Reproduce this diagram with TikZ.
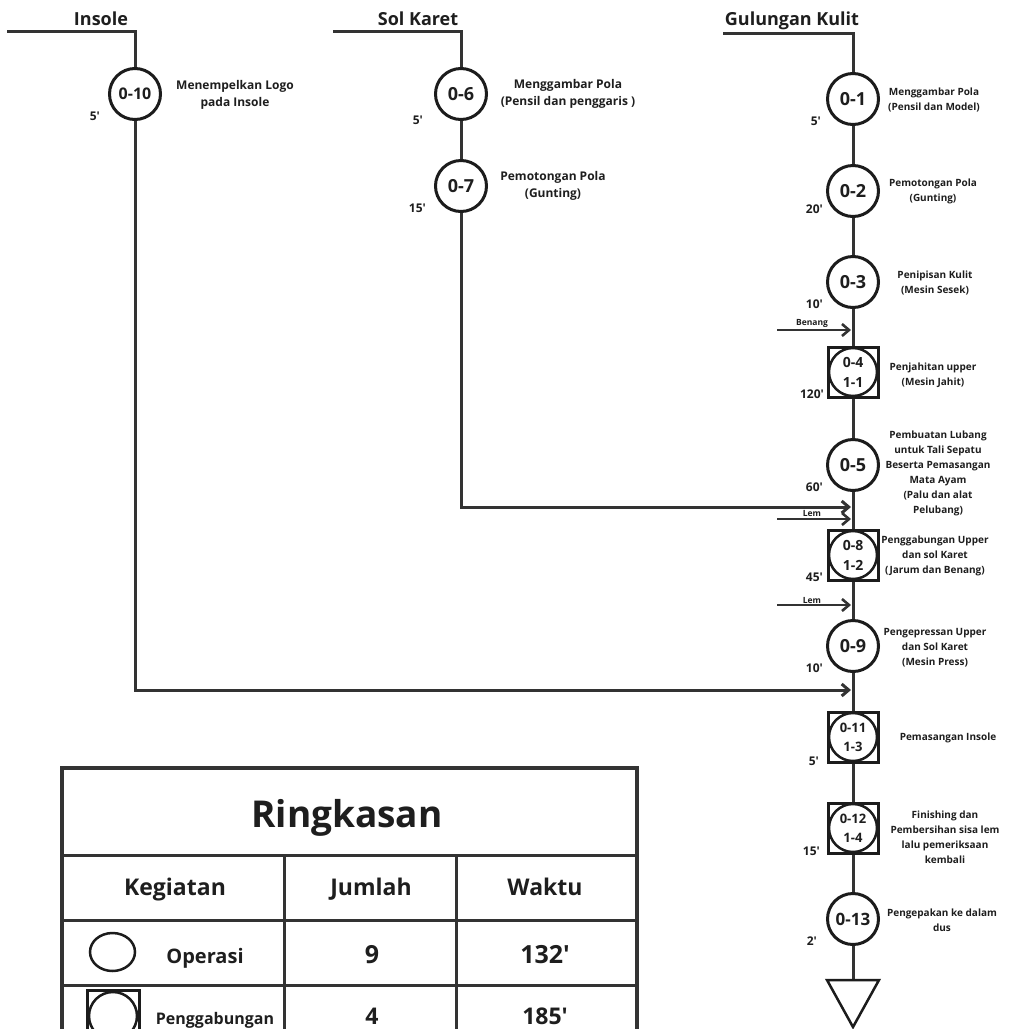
\documentclass[tikz,border=0pt]{standalone}
\usepackage{fontspec}
\setmainfont{Open Sans}
\newfontfamily\osans{Open Sans}
\usetikzlibrary{arrows.meta}
\definecolor{linec}{RGB}{51,51,51}
\definecolor{shapec}{RGB}{28,28,28}
\definecolor{textc}{RGB}{30,30,30}
\newcommand\myfs[2]{\osans\fontsize{#1}{#2}\selectfont\bfseries}
\begin{document}
\begin{tikzpicture}[x=1pt,y=-1pt,
  conn/.style={draw=linec,line width=3pt},
  arr/.style={draw=linec,line width=2.6pt,-{Straight Barb[length=7pt,width=12pt]}},
  opc/.style={circle,draw=shapec,line width=3pt,fill=white,minimum size=51pt,inner sep=0pt,text=textc,font=\myfs{18}{20}},
  sqbox/.style={rectangle,draw=shapec,line width=3pt,fill=white,minimum size=50pt,inner sep=0pt},
  incirc/.style={circle,draw=shapec,line width=2.5pt,minimum size=48pt,inner sep=0pt,text=textc,align=center,font=\myfs{14}{20}},
  desc/.style={align=center,text=textc,font=\myfs{10}{15},inner sep=0pt},
  descl/.style={align=center,text=textc,font=\myfs{12}{17},inner sep=0pt},
  tlab/.style={anchor=base east,text=textc,font=\myfs{12}{14},inner sep=0pt},
  ttl/.style={anchor=base,text=textc,font=\myfs{18}{20},inner sep=0pt},
  smalllab/.style={text=textc,font=\myfs{8.5}{9},inner sep=0pt},
  tb/.style={draw=linec,line width=3pt},
  tbtext/.style={anchor=base,text=textc,inner sep=0pt},
]
\useasboundingbox (0,0) rectangle (1011,1029);
\clip (0,0) rectangle (1011,1029);
\fill[white] (0,0) rectangle (1011,1029);

% ---------- titles ----------
\node[ttl] (tIns) at (101,25) {Insole};
\node[ttl] (tSol) at (418,25) {Sol Karet};
\node[ttl] (tGul) at (792,25) {Gulungan Kulit};
\coordinate (cI) at (7,31);
\coordinate (cS) at (333,31);
\coordinate (cG) at (723,33);

% ---------- left columns ----------
\node[opc,font=\myfs{16}{18}] (o10) at (135,94) {0-10};
\node[opc] (o6) at (461,94) {0-6};
\node[opc] (o7) at (461,186) {0-7};

% ---------- main column ----------
\node[opc] (o1) at (853,99) {0-1};
\node[opc] (o2) at (853,191) {0-2};
\node[opc] (o3) at (853,282) {0-3};
\node[sqbox] (o4) at (853,372) {};
\node[incirc] (o4c) at (o4) {0-4\\1-1};
\node[opc] (o5) at (853,465) {0-5};
\node[sqbox] (o8) at (853,555) {};
\node[incirc] (o8c) at (o8) {0-8\\1-2};
\node[opc] (o9) at (853,646) {0-9};
\node[sqbox] (o11) at (853,737) {};
\node[incirc,font=\myfs{13}{19}] (o11c) at (o11) {0-11\\1-3};
\node[sqbox] (o12) at (853,828) {};
\node[incirc,font=\myfs{13}{19}] (o12c) at (o12) {0-12\\1-4};
\node[opc,font=\myfs{17}{19}] (o13) at (853,919) {0-13};
\coordinate (tri) at (853,980);

% ---------- connectors ----------
\draw[conn] (cI) -| (o10);
\draw[conn] (cS) -| (o6);
\draw[conn] (cG) -| (o1);
\draw[conn] (o6) -- (o7);
\draw[conn] (o1) -- (o2);
\draw[conn] (o2) -- (o3);
\draw[conn] (o3) -- (o4);
\draw[conn] (o4) -- (o5);
\draw[conn] (o5) -- (o8);
\draw[conn] (o8) -- (o9);
\draw[conn] (o9) -- (o11);
\draw[conn] (o11) -- (o12);
\draw[conn] (o12) -- (o13);
\draw[conn] (o13) -- (tri);
\draw[draw=shapec,line width=2.5pt,line join=miter] (827,980) -- (879,980) -- (853,1027) -- cycle;

\coordinate (j1) at (851,507);
\coordinate (j2) at (851,690);
\draw[arr,line width=3pt] (o7) |- (j1);
\draw[arr,line width=3pt] (o10) |- (j2);

\coordinate (bS) at (777,330); \coordinate (bE) at (851,330);
\draw[arr] (bS) -- (bE);
\node[smalllab] (bLab) at (812,323) {Benang};
\coordinate (l1S) at (777,519); \coordinate (l1E) at (851,519);
\draw[arr] (l1S) -- (l1E);
\node[smalllab] (l1Lab) at (812,513) {Lem};
\coordinate (l2S) at (777,605); \coordinate (l2E) at (851,605);
\draw[arr] (l2S) -- (l2E);
\node[smalllab] (l2Lab) at (812,600) {Lem};

% ---------- descriptions ----------
\node[descl] (d10) at (235,95) {Menempelkan Logo\\pada Insole};
\node[descl] (d6) at (568,94) {Menggambar Pola\\(Pensil dan penggaris )};
\node[descl] (d7) at (553,186) {Pemotongan Pola\\(Gunting)};
\node[desc] (d1) at (934,100) {Menggambar Pola\\(Pensil dan Model)};
\node[desc] (d2) at (933,191) {Pemotongan Pola\\(Gunting)};
\node[desc] (d3) at (935,283) {Penipisan Kulit\\(Mesin Sesek)};
\node[desc] (d4) at (933,375) {Penjahitan upper\\(Mesin Jahit)};
\node[desc] (d5) at (938,473) {Pembuatan Lubang\\untuk Tali Sepatu\\Beserta Pemasangan\\Mata Ayam\\(Palu dan alat\\Pelubang)};
\node[desc] (d8) at (935,556) {Penggabungan Upper\\dan sol Karet\\(Jarum dan Benang)};
\node[desc] (d9) at (935,648) {Pengepressan Upper\\dan Sol Karet\\(Mesin Press)};
\node[desc] (d11) at (948,738) {Pemasangan Insole};
\node[desc] (d12) at (945,837) {Finishing dan\\Pembersihan sisa lem\\lalu pemeriksaan\\kembali};
\node[desc] (d13) at (942,920) {Pengepakan ke dalam\\dus};

% ---------- times ----------
\node[tlab] (t10) at (100,120) {5'};
\node[tlab] (t6) at (423,124) {5'};
\node[tlab] (t7) at (426,212) {15'};
\node[tlab] (t1) at (821,125) {5'};
\node[tlab] (t2) at (823,213) {20'};
\node[tlab] (t3) at (823,308) {10'};
\node[tlab] (t4) at (824,398) {120'};
\node[tlab] (t5) at (823,491) {60'};
\node[tlab] (t8) at (823,581) {45'};
\node[tlab] (t9) at (823,672) {10'};
\node[tlab] (t11) at (819,765) {5'};
\node[tlab] (t12) at (820,855) {15'};
\node[tlab] (t13) at (817,945) {2'};

% ---------- summary table ----------
\draw[draw=linec,line width=4pt] (62,768) rectangle (637,1050);
\draw[tb] (62,855) -- (637,855);
\draw[tb] (62,920) -- (637,920);
\draw[tb] (62,985) -- (637,985);
\draw[tb] (284,855) -- (284,1050);
\draw[tb] (456,855) -- (456,1050);
\node[tbtext,font=\myfs{37}{40}] (tRing) at (347,827) {Ringkasan};
\node[tbtext,font=\myfs{23}{25}] (hK) at (175,895) {Kegiatan};
\node[tbtext,font=\myfs{23}{25}] (hJ) at (371,895) {Jumlah};
\node[tbtext,font=\myfs{23}{25}] (hW) at (545,895) {Waktu};
\draw[draw=shapec,line width=2.5pt] (112.5,952) ellipse [x radius=22.5, y radius=19];
\node[tbtext,font=\myfs{20}{22}] (rOp) at (205,963) {Operasi};
\node[tbtext,font=\myfs{25}{27}] (rOpN) at (372,963) {9};
\node[tbtext,font=\myfs{25}{27}] (rOpT) at (545,963) {132'};
\draw[draw=shapec,line width=3pt] (87,990) rectangle (139,1042);
\draw[draw=shapec,line width=2.5pt] (113,1016) circle [radius=24];
\node[tbtext,font=\myfs{16}{18}] (rPg) at (215,1024) {Penggabungan};
\node[tbtext,font=\myfs{23}{25}] (rPgN) at (372,1024) {4};
\node[tbtext,font=\myfs{23}{25}] (rPgT) at (545,1024) {185'};
\end{tikzpicture}
\end{document}
